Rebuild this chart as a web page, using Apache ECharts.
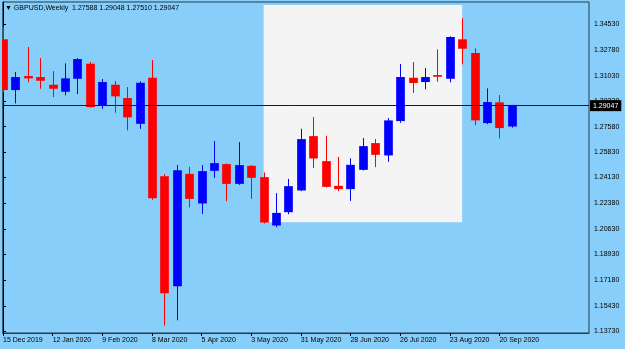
<!DOCTYPE html>
<html>
<head>
<meta charset="utf-8">
<script src="https://cdn.jsdelivr.net/npm/echarts@6/dist/echarts.min.js"></script>
<style>
  html, body { margin: 0; padding: 0; background: #87CEFA; }
  #chart { width: 625px; height: 349px; }
</style>
</head>
<body>
<div id="chart"></div>
<script>
// weekly GBPUSD bars, one per week starting 15 Dec 2019
const opens  = [1.33493, 1.30055, 1.31004, 1.30937, 1.30415, 1.29940, 1.30821, 1.31838, 1.28991, 1.30415,
                1.29513, 1.27770, 1.30889, 1.24224, 1.16766, 1.24380, 1.22373, 1.24584, 1.25038, 1.23702,
                1.24923, 1.24157, 1.20882, 1.21784, 1.23255, 1.26936, 1.25241, 1.23567, 1.23343, 1.24652,
                1.26462, 1.25628, 1.27953, 1.30889, 1.30598, 1.31072, 1.30821, 1.33493, 1.32564, 1.27818,
                1.29221, 1.27588];
const highs  = [1.34347, 1.31276, 1.32971, 1.32225, 1.31343, 1.31865, 1.32225, 1.31954, 1.30801, 1.30665,
                1.30259, 1.30645, 1.32089, 1.24360, 1.24970, 1.24855, 1.24970, 1.26597, 1.25085, 1.26530,
                1.24970, 1.24475, 1.23072, 1.24041, 1.27431, 1.28225, 1.26957, 1.25533, 1.25424, 1.26801,
                1.26733, 1.28157, 1.31818, 1.31954, 1.31547, 1.32815, 1.33696, 1.34937, 1.32882, 1.30170,
                1.29716, 1.29048];
const lows   = [1.29872, 1.29153, 1.30577, 1.30143, 1.29581, 1.29696, 1.29784, 1.28855, 1.28787, 1.28516,
                1.27323, 1.27431, 1.22618, 1.14102, 1.14461, 1.22102, 1.21668, 1.24109, 1.22529, 1.23635,
                1.22685, 1.21017, 1.20767, 1.21648, 1.23207, 1.24767, 1.23458, 1.23207, 1.22550, 1.24611,
                1.24835, 1.25194, 1.27838, 1.29852, 1.30103, 1.30618, 1.30577, 1.31798, 1.27682, 1.27750,
                1.26780, 1.27510];
const closes = [1.30055, 1.30937, 1.30848, 1.30686, 1.30143, 1.30848, 1.32157, 1.28903, 1.30598, 1.29628,
                1.28204, 1.30550, 1.22733, 1.16292, 1.24631, 1.22685, 1.24563, 1.25106, 1.23702, 1.24970,
                1.24109, 1.21085, 1.21736, 1.23546, 1.26733, 1.25424, 1.23499, 1.23343, 1.24990, 1.26258,
                1.25669, 1.28001, 1.30937, 1.30530, 1.30937, 1.30957, 1.33649, 1.32855, 1.28001, 1.29242,
                1.27479, 1.29047];

const dateTicks  = [0, 4, 8, 12, 16, 20, 24, 28, 32, 36, 40];
const dateLabels = ['15 Dec 2019', '12 Jan 2020', '9 Feb 2020', '8 Mar 2020', '5 Apr 2020', '3 May 2020',
                    '31 May 2020', '28 Jun 2020', '26 Jul 2020', '23 Aug 2020', '20 Sep 2020'];
const priceTicks = [1.13730, 1.15430, 1.17180, 1.18930, 1.20630, 1.22380, 1.24130, 1.25830,
                    1.27580, 1.29330, 1.31030, 1.32780, 1.34530];

const lastPrice = 1.29047;
const header = '▼ GBPUSD,Weekly  1.27588 1.29048 1.27510 1.29047';
// rectangle object: from week 21 to week 37
const boxWeeks  = [21, 37];
const boxPrices = [1.21106, 1.35818];

const font = 'Liberation Sans, DejaVu Sans, sans-serif';

let bars = opens.map((o, i) => [i, o, closes[i], lows[i], highs[i]]);

let chart = echarts.init(document.getElementById('chart'));
chart.setOption({
  animation: false,
  backgroundColor: '#87CEFA',
  title: {
    text: header,
    left: 5,
    top: 3,
    padding: 0,
    textStyle: { fontSize: 7, fontWeight: 'normal', color: '#000', fontFamily: font, lineHeight: 10 }
  },
  grid: {
    left: 2, right: 36, top: 2, bottom: 16,
    show: true, borderColor: '#2b3a44', borderWidth: 1, backgroundColor: '#87CEFA'
  },
  xAxis: {
    type: 'value',
    min: -0.02,
    max: 47.22,
    splitLine: { show: false },
    axisLine: { show: true, lineStyle: { color: '#2b3a44', width: 1 } },
    axisTick: { show: true, length: 3, customValues: dateTicks, lineStyle: { color: '#000' } },
    axisLabel: {
      customValues: dateTicks,
      formatter: v => dateLabels[dateTicks.indexOf(Math.round(v))] || '',
      align: 'left',
      margin: 4,
      fontSize: 7,
      color: '#000',
      fontFamily: font
    }
  },
  yAxis: {
    type: 'value',
    position: 'right',
    min: 1.1360,
    max: 1.3602,
    splitLine: { show: false },
    axisLine: { show: true, lineStyle: { color: '#000', width: 1 } },
    axisTick: { show: true, length: 3, customValues: priceTicks, lineStyle: { color: '#000' } },
    axisLabel: {
      customValues: priceTicks,
      formatter: v => v.toFixed(5),
      margin: 5,
      fontSize: 7,
      color: '#000',
      fontFamily: font
    }
  },
  series: [
    {
      // the grey rectangle object
      type: 'line',
      z: 1,
      data: [],
      markArea: {
        silent: true,
        itemStyle: { color: '#F4F4F4' },
        data: [[{ xAxis: boxWeeks[0], yAxis: boxPrices[0] }, { xAxis: boxWeeks[1], yAxis: boxPrices[1] }]]
      }
    },
    {
      type: 'custom',
      z: 2,
      clip: true,
      data: bars,
      encode: { x: 0, y: [1, 2, 3, 4] },
      renderItem: function (params, api) {
        let x = api.value(0), o = api.value(1), c = api.value(2), l = api.value(3), h = api.value(4);
        let pO = api.coord([x, o]), pC = api.coord([x, c]);
        let pL = api.coord([x, l]), pH = api.coord([x, h]);
        let w = api.size([1, 0])[0] * 0.7;
        let color = c >= o ? '#0000FF' : '#FF0000';
        let cx = Math.round(pO[0]) + 0.5;
        return {
          type: 'group',
          children: [
            { type: 'line', shape: { x1: cx, y1: pH[1], x2: cx, y2: pL[1] }, style: { stroke: color, lineWidth: 1 } },
            { type: 'rect', shape: { x: cx - w / 2, y: Math.min(pO[1], pC[1]), width: w, height: Math.max(Math.abs(pO[1] - pC[1]), 1.5) },
              style: { fill: color } }
          ]
        };
      }
    },
    {
      // current price line and label
      type: 'line',
      z: 3,
      data: [],
      markLine: {
        silent: true,
        symbol: 'none',
        lineStyle: { color: '#1a1a1a', width: 1, type: 'solid' },
        label: {
          show: true,
          position: 'end',
          distance: 1,
          formatter: lastPrice.toFixed(5),
          backgroundColor: '#000',
          color: '#fff',
          padding: [2, 3],
          fontSize: 7,
          fontFamily: font
        },
        data: [{ yAxis: lastPrice }]
      }
    }
  ]
});
</script>
</body>
</html>
